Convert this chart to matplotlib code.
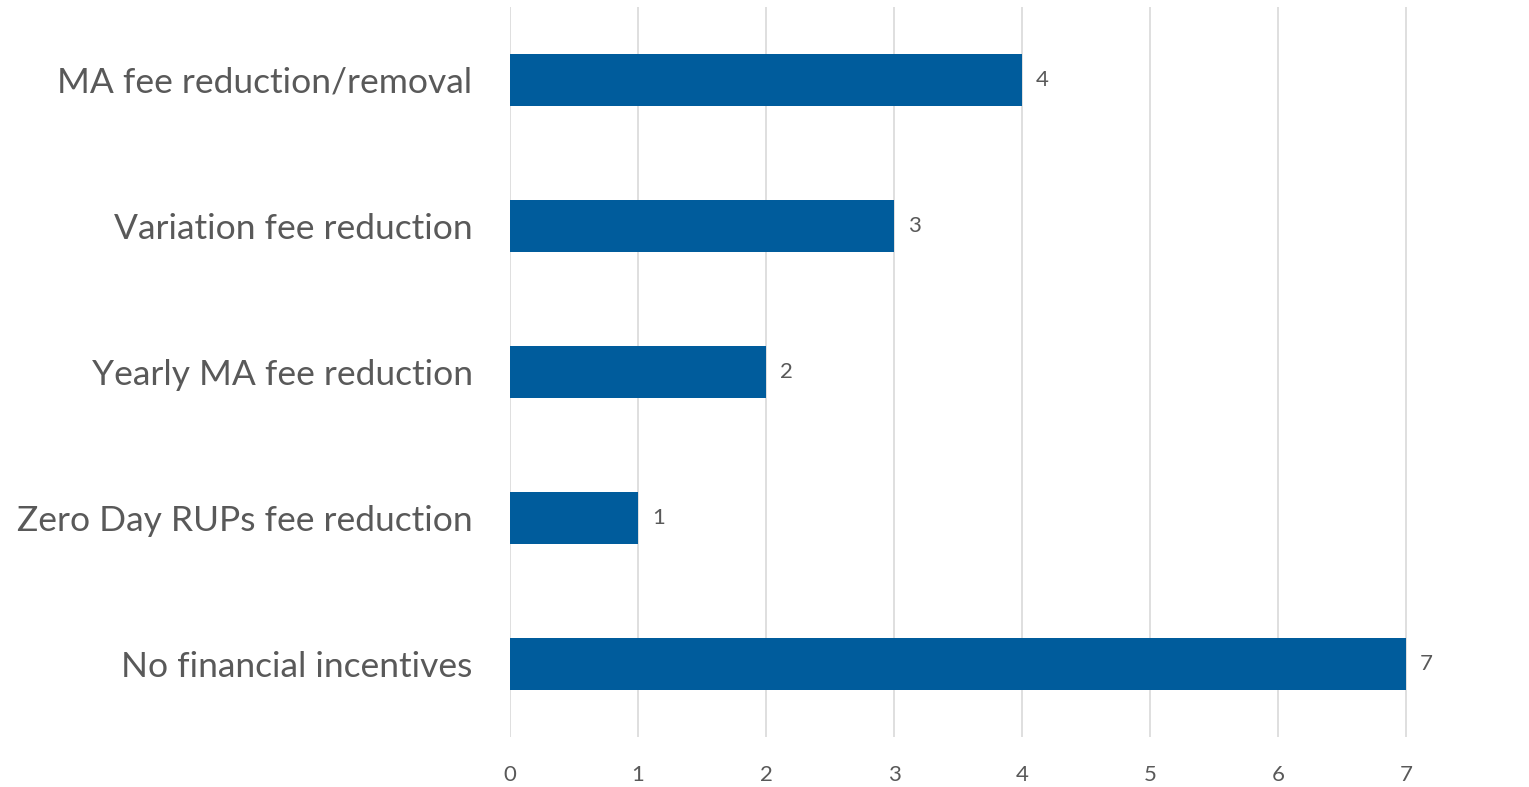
import matplotlib.pyplot as plt

categories = ['MA fee reduction/removal', 'Variation fee reduction', 'Yearly MA fee reduction',
              'Zero Day RUPs fee reduction', 'No financial incentives']
counts = [4, 3, 2, 1, 7]
xticks = [0, 1, 2, 3, 4, 5, 6, 7, 8]

plt.rcParams['font.family'] = ['Lato', 'DejaVu Sans']
text_color = '#595959'

fig = plt.figure(figsize=(15.29, 7.87), dpi=100)
ax = fig.add_axes([510 / 1529, 1 - 737 / 787, 1024 / 1529, 730 / 787])

y = list(range(len(categories)))
bars = ax.barh(y, counts, height=0.356, color='#005C9C', zorder=3)
ax.set_ylim(len(categories) - 0.5, -0.5)
ax.set_xlim(0, 8)
ax.set_yticks(y)
ax.set_yticklabels(categories, fontsize=25.5, color=text_color)
ax.set_xticks(xticks)
ax.set_xticklabels([str(t) for t in xticks], fontsize=16, color=text_color)
ax.tick_params(axis='y', length=0, pad=27)
ax.tick_params(axis='x', length=0, pad=20)
ax.grid(axis='x', color='#D9D9D9', linewidth=1.2, zorder=0)
for s in ax.spines.values():
    s.set_visible(False)

for b, v in zip(bars, counts):
    ax.text(b.get_width() + 0.11, b.get_y() + b.get_height() / 2, str(v),
            va='center', ha='left', fontsize=16, color=text_color)

fig.savefig('out.png', dpi=100)
